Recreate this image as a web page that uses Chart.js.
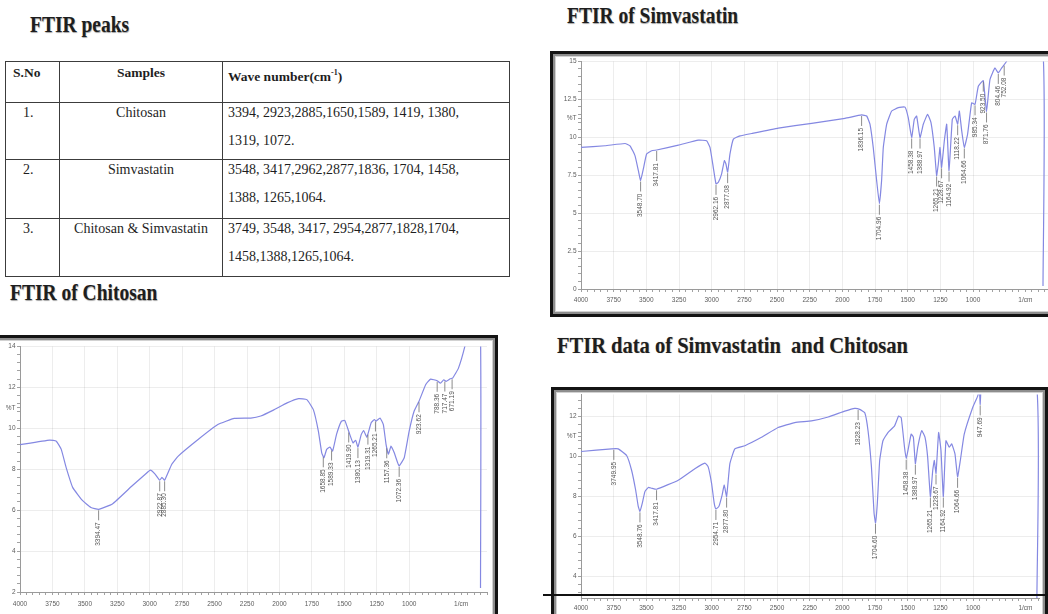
<!DOCTYPE html>
<html><head><meta charset="utf-8"><title>FTIR</title>
<script src="https://cdn.jsdelivr.net/npm/chart.js@4.4.1/dist/chart.umd.min.js"></script>
<style>
html,body{margin:0;padding:0;}
body{width:1048px;height:614px;overflow:hidden;background:#fff;position:relative;font-family:"Liberation Serif","Times New Roman",serif;color:#1e1e1e;}
.ttl{position:absolute;font-weight:bold;font-size:19.5px;line-height:1;white-space:pre;transform:scaleY(1.15);transform-origin:0 0;text-shadow:0.5px 0.5px 0.8px rgba(0,0,0,0.35);}
#tbl{position:absolute;left:5px;top:61px;border-collapse:collapse;table-layout:fixed;}
#tbl td{border:1.5px solid #3c3c3c;padding:0;vertical-align:top;font-size:14px;line-height:28px;white-space:nowrap;overflow:visible;}
#tbl tr.h td{font-weight:bold;font-size:13.5px;line-height:22px;}
#tbl .in{position:relative;top:-4px;}
.frame{position:absolute;box-sizing:border-box;border:3px solid #141414;background:#fff;z-index:1;}
.frame-top{position:absolute;box-sizing:border-box;border:3px solid #141414;box-shadow:inset 0 0 0 2px #8e8e8e, inset 0 0 0 3px #d2d2d2;pointer-events:none;z-index:5;}
canvas{position:absolute;z-index:2;}
#hline{position:absolute;left:543px;top:593.5px;width:505px;height:2.5px;background:#111;z-index:6;}
</style></head>
<body>
<div class="ttl" style="left:30px;top:13.5px;">FTIR peaks</div>
<div class="ttl" style="left:567px;top:4.5px;">FTIR of Simvastatin</div>
<div class="ttl" style="left:10px;top:282px;">FTIR of Chitosan</div>
<div class="ttl" style="left:557px;top:333px;font-size:20.5px;">FTIR data of Simvastatin  and Chitosan</div>

<table id="tbl">
<colgroup><col style="width:54px"><col style="width:163px"><col style="width:287px"></colgroup>
<tbody id="tbody"></tbody>
</table>

<div class="frame" style="left:-10px;top:335px;width:508px;height:300px;"></div>
<div class="frame-top" style="left:-10px;top:335px;width:508px;height:300px;"></div>
<div class="frame" style="left:550px;top:51px;width:520px;height:266px;"></div>
<div class="frame-top" style="left:550px;top:51px;width:520px;height:266px;"></div>
<div class="frame" style="left:551px;top:387px;width:497px;height:250px;"></div>
<div class="frame-top" style="left:551px;top:387px;width:497px;height:250px;"></div>

<canvas id="cChi" width="492" height="273" style="left:0px;top:341px;"></canvas>
<canvas id="cSim" width="500" height="254" style="left:556px;top:56px;"></canvas>
<canvas id="cMix" width="488" height="225" style="left:556px;top:389px;"></canvas>
<div id="hline"></div>

<script>
// ---------- table data ----------
const tableHeaders = ['S.No', 'Samples', 'Wave number(cm<sup style="font-size:8px">-1</sup>)'];
const sNo = ['1.', '2.', '3.'];
const samples = ['Chitosan', 'Simvastatin', 'Chitosan &amp; Simvastatin'];
const peakLines = [
  ['3394, 2923,2885,1650,1589, 1419, 1380,', '1319, 1072.'],
  ['3548, 3417,2962,2877,1836, 1704, 1458,', '1388, 1265,1064.'],
  ['3749, 3548, 3417, 2954,2877,1828,1704,', '1458,1388,1265,1064.']
];

// ---------- axis tick labels ----------
const xMajorTicks = [4000,3750,3500,3250,3000,2750,2500,2250,2000,1750,1500,1250,1000];
const xUnitTick = 600;
const xUnitLabel = '1/cm';

// ---------- FTIR of Chitosan ----------
const chiWn = [4000,3771,3720,3682,3644,3593,3517,3453,3394,3288,3135,3034,2995,2957,2923,2906,2885,2830,2780,2627,2475,2348,2221,2144,2043,1941,1852,1789,1738,1700,1674,1657,1636,1611,1590,1560,1522,1496,1458,1433,1412,1395,1369,1351,1326,1293,1268,1255,1225,1199,1178,1160,1140,1115,1089,1077,1038,1000,962,924,873,835,784,759,733,716,683,665,620,568,540,452,450];
const chiT  = [9.2,9.42,9.37,8.97,8.08,7.1,6.46,6.13,6.04,6.3,7.19,7.75,7.95,7.75,7.46,7.6,7.46,8.24,8.64,9.45,10.18,10.48,10.5,10.6,10.9,11.24,11.45,11.4,10.9,9.86,8.8,8.56,8.97,9.08,8.89,9.7,10.35,10.38,9.7,9.29,9.41,9.08,9.7,9.89,9.57,10.27,10.43,10.35,10.5,10.18,9.2,8.73,9.13,8.8,8.32,8.16,8.56,9.86,10.83,11.32,12.13,12.4,12.32,12.2,12.37,12.29,12.42,12.45,12.94,14.07,15,15,2.2];
const chiPeakWn  = [3394,2923,2885,1662,1598,1466,1395,1318,1260,1173,1077,924,784,725,669];
const chiPeakLbl = ['3394.47','2922.87','2885.30','1658.85','1589.33','1419.90','1380.13','1319.31','1265.21','1157.36','1072.36','923.62','788.36','717.47','671.19'];
const chiYLabels = [2,4,6,8,10,12,14];

// ---------- FTIR of Simvastatin ----------
const simWn = [4000,3816,3663,3625,3587,3561,3544,3523,3498,3459,3421,3255,3102,3039,3013,2988,2967,2949,2924,2903,2891,2878,2860,2834,2783,2694,2490,2235,1980,1853,1814,1789,1764,1738,1717,1700,1687,1661,1623,1572,1521,1496,1470,1450,1432,1406,1381,1348,1322,1297,1279,1266,1253,1241,1220,1202,1184,1159,1138,1118,1105,1087,1067,1042,1011,985,960,922,897,871,833,807,782,744,730,468,465];
const simT  = [9.33,9.44,9.59,9.44,8.79,7.8,7.15,7.91,8.9,9.11,9.16,9.48,9.81,9.77,9.33,8.02,6.93,7.04,7.59,8.46,8.24,7.7,8.9,9.88,10.09,10.25,10.6,10.92,11.25,11.47,11.4,10.86,9.33,7.15,5.62,7.15,9.33,10.86,11.73,11.95,11.99,11.29,9.98,11.18,11.4,9.98,10.86,11.51,10.97,9.33,7.48,8.24,9.33,8.02,9.77,10.86,7.8,11.18,11.4,10.86,11.73,10.42,9.33,10.2,12.27,12.17,13.36,13.73,11.7,13.8,14.56,14.24,14.56,15,15.8,15.8,0.2];
const simPeakWn  = [3544,3421,2967,2878,1853,1717,1470,1406,1279,1241,1184,1118,1067,985,922,897,807,762];
const simPeakLbl = ['3548.70','3417.81','2962.16','2877.08','1836.15','1704.96','1458.38','1388.97','1265.21','1228.67','1164.92','1118.22','1064.66','985.34','923.50','871.76','804.46','752.08'];
const simYLabels = [0,2.5,5,7.5,10,12.5,15];

// ---------- FTIR data of Simvastatin and Chitosan ----------
const mixWn = [4000,3766,3715,3651,3613,3582,3562,3549,3531,3511,3485,3460,3422,3256,3129,3052,3027,3001,2981,2968,2945,2920,2904,2886,2861,2823,2746,2619,2492,2364,2237,2109,1982,1906,1868,1829,1804,1778,1758,1747,1733,1715,1690,1652,1601,1570,1550,1525,1512,1494,1474,1457,1442,1424,1393,1368,1348,1327,1309,1297,1284,1264,1246,1228,1208,1182,1164,1139,1119,1098,1068,1004,966,952,946,940,930,520,512];
const mixT  = [10.24,10.37,10.37,10.04,9.3,8.31,7.49,7.24,7.65,8.23,8.44,8.4,8.35,8.8,9.38,9.66,9.47,8.64,7.65,7.36,7.49,8.07,8.56,7.98,9.63,10.37,10.53,10.95,11.44,11.69,11.77,11.97,12.26,12.4,12.35,12.18,11.28,9.47,7.16,6.67,7.65,9.79,10.78,11.19,11.52,12.02,11.93,10.45,9.88,10.45,11.11,10.95,9.63,10.45,11.28,10.95,9.96,7.98,9.3,9.79,9.14,11.19,10.29,7.98,10.78,10.45,10.62,10.12,8.97,9.79,11.11,12.43,13.0,13.3,12.6,13.4,13.8,13.8,2.9];
const mixPeakWn  = [3749,3549,3422,2968,2886,1880,1747,1512,1442,1327,1284,1228,1119,946];
const mixPeakLbl = ['3749.95','3548.76','3417.81','2954.71','2877.80','1828.23','1704.60','1458.38','1388.97','1265.21','1228.67','1164.92','1064.66','947.69'];
const mixYLabels = [4,6,8,10,12];

// ---------- build table ----------
(function(){
  const tb = document.getElementById('tbody');
  let html = '<tr class="h" style="height:41px"><td style="padding-left:7px">'+tableHeaders[0]+'</td><td style="text-align:center">'+tableHeaders[1]+'</td><td style="padding-left:5px">'+tableHeaders[2]+'</td></tr>';
  const hs = [56,59,58];
  for (let i=0;i<sNo.length;i++){
    html += '<tr style="height:'+hs[i]+'px"><td style="padding-left:17px"><div class="in">'+sNo[i]+'</div></td>'+
            '<td style="text-align:center"><div class="in">'+samples[i]+'</div></td>'+
            '<td style="padding-left:5px"><div class="in">'+peakLines[i].join('<br>')+'</div></td></tr>';
  }
  tb.innerHTML = html;
})();

// ---------- charts ----------
Chart.defaults.font.family = '"Liberation Sans", Arial, sans-serif';

function xTickValues(xmin){
  const out=[];
  for(let v=4000; v>=xmin; v-=50) out.push(v);
  return out;
}
function yTickValues(min,max,base,step,extra){
  const out=[];
  for(let k=0;k<200;k++){ const v=+(base+k*step).toFixed(3); if(v>max+1e-9)break; if(v>=min-1e-9) out.push(v); }
  if(extra!=null && !out.some(v=>Math.abs(v-extra)<1e-6)) out.push(extra);
  return out.sort((a,b)=>a-b);
}
function interp(xs, ys, w){
  for(let i=0;i<xs.length-1;i++){
    const a=xs[i], b=xs[i+1];
    if(a>=w && w>=b){ const t=(a===b)?0:(a-w)/(a-b); return ys[i]+t*(ys[i+1]-ys[i]); }
  }
  return ys[ys.length-1];
}

function makeChart(id, c){
  const peakPlugin = {
    id:'peaks_'+id,
    afterDatasetsDraw(chart){
      const ctx = chart.ctx, xs = chart.scales.x, ysc = chart.scales.y, ca = chart.chartArea;
      ctx.save();
      ctx.beginPath(); ctx.rect(ca.left, ca.top, ca.right-ca.left, ca.bottom-ca.top); ctx.clip();
      ctx.strokeStyle = '#6f6f6f'; ctx.lineWidth = 0.8;
      ctx.fillStyle = '#555'; ctx.font = '6.5px "Liberation Sans", Arial, sans-serif';
      c.peakWn.forEach((w,i)=>{
        const px = xs.getPixelForValue(w);
        const py = ysc.getPixelForValue(Math.min(interp(c.wn, c.t, w), ysc.max));
        ctx.beginPath(); ctx.moveTo(px, py+1); ctx.lineTo(px, py+11); ctx.stroke();
        ctx.save(); ctx.translate(px, py+13); ctx.rotate(-Math.PI/2);
        ctx.textAlign='right'; ctx.textBaseline='middle';
        ctx.fillText(c.peakLbl[i], 0, 0);
        ctx.restore();
      });
      ctx.restore();
    }
  };
  const yTicks = yTickValues(c.ymin, c.ymax, c.ybase, c.ystep, c.yT);
  return new Chart(document.getElementById(id), {
    type:'line',
    data:{datasets:[{
      data: c.wn.map((x,i)=>({x:x, y:c.t[i]})),
      borderColor:'rgb(132,136,226)', borderWidth:1.2, pointRadius:0, tension:0.12, fill:false, clip:0
    }]},
    options:{
      responsive:false, animation:false, devicePixelRatio:1,
      layout:{padding:{top:c.padTop, right:c.padRight, left:0, bottom:0}},
      plugins:{legend:{display:false}, tooltip:{enabled:false}},
      scales:{
        x:{
          type:'linear', reverse:true, min:c.xmin, max:4000,
          afterBuildTicks: s => { s.ticks = xTickValues(c.xmin).map(v=>({value:v})); },
          afterFit: s => { s.height = c.xAxisH; },
          ticks:{autoSkip:false, maxRotation:0, minRotation:0, padding:c.xPad, color:'#5c5c5c', font:{size:6.5},
            callback: v => xMajorTicks.includes(v) ? String(v) : (v===xUnitTick ? xUnitLabel : '')},
          grid:{drawTicks:true, tickLength:3, tickWidth:0.8,
            color: g => (g.tick && xMajorTicks.includes(g.tick.value) && g.tick.value!==4000) ? 'rgba(0,0,0,0.07)' : 'rgba(0,0,0,0)',
            tickColor:'#8a8a8a'},
          border:{display:true, color:'#9a9a9a', width:1}
        },
        y:{
          type:'linear', min:c.ymin, max:c.ymax,
          afterBuildTicks: s => { s.ticks = yTicks.map(v=>({value:v})); },
          afterFit: s => { s.width = c.yAxisW; },
          ticks:{autoSkip:false, padding:1.5, color:'#5c5c5c', font:{size:6.5},
            callback: v => c.yLabels.includes(v) ? String(v) : (Math.abs(v-c.yT)<1e-6 ? '%T' : '')},
          grid:{drawTicks:true, tickLength:3, tickWidth:0.8,
            color: g => (g.tick && c.yLabels.includes(g.tick.value) && g.tick.value!==c.ymin) ? 'rgba(0,0,0,0.07)' : 'rgba(0,0,0,0)',
            tickColor:'#8a8a8a'},
          border:{display:true, color:'#9a9a9a', width:1}
        }
      }
    },
    plugins:[peakPlugin]
  });
}

makeChart('cChi', {wn:chiWn, t:chiT, peakWn:chiPeakWn, peakLbl:chiPeakLbl, yLabels:chiYLabels,
  xmin:400, ymin:2, ymax:14, ybase:2, ystep:0.4, yT:11,
  padTop:4, padRight:1, yAxisW:20, xAxisH:22, xPad:5});
makeChart('cSim', {wn:simWn, t:simT, peakWn:simPeakWn, peakLbl:simPeakLbl, yLabels:simYLabels,
  xmin:400, ymin:0, ymax:15, ybase:0, ystep:0.5, yT:11.25,
  padTop:4, padRight:4.5, yAxisW:25, xAxisH:21, xPad:4.5});
makeChart('cMix', {wn:mixWn, t:mixT, peakWn:mixPeakWn, peakLbl:mixPeakLbl, yLabels:mixYLabels,
  xmin:490, ymin:2.9, ymax:13.1, ybase:2.8, ystep:0.4, yT:11,
  padTop:4, padRight:4.2, yAxisW:25, xAxisH:16, xPad:3.5});
</script>
</body></html>
